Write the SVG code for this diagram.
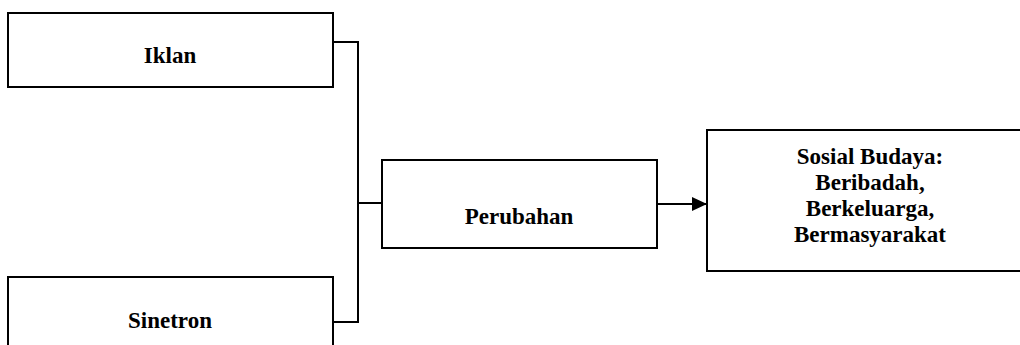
<svg xmlns="http://www.w3.org/2000/svg" width="1020" height="345" viewBox="0 0 1020 345">
<style>
.box{fill:#fff;stroke:#000;stroke-width:2}
.lbl{font-family:"Liberation Serif","Times New Roman",serif;font-weight:bold;font-size:23px;fill:#000;text-anchor:middle}
.con{fill:none;stroke:#000;stroke-width:2}
</style>
<defs>
<marker id="arr" markerWidth="16" markerHeight="14" refX="15" refY="7" orient="auto" markerUnits="userSpaceOnUse">
<path d="M0,0 L15,7 L0,14 Z" fill="#000"/>
</marker>
</defs>
<rect width="1020" height="345" fill="#fff"/>
<g id="connectors">
<polyline class="con" points="333,42 358,42 358,322 333,322"/>
<line class="con" x1="358" y1="203" x2="382" y2="203"/>
<line class="con" x1="657" y1="204" x2="707" y2="204" marker-end="url(#arr)"/>
</g>
<g id="iklan">
<rect class="box" x="8" y="13" width="325" height="74"/>
<text class="lbl" x="170" y="63">Iklan</text>
</g>
<g id="sinetron">
<rect class="box" x="8" y="277" width="325" height="90"/>
<text class="lbl" x="170" y="328">Sinetron</text>
</g>
<g id="perubahan">
<rect class="box" x="382" y="160" width="275" height="88"/>
<text class="lbl" x="519" y="224">Perubahan</text>
</g>
<g id="sosial">
<rect class="box" x="707" y="130" width="330" height="141"/>
<text class="lbl" x="870" y="164">Sosial Budaya:</text>
<text class="lbl" x="870" y="190">Beribadah,</text>
<text class="lbl" x="870" y="216">Berkeluarga,</text>
<text class="lbl" x="870" y="242">Bermasyarakat</text>
</g>
</svg>
